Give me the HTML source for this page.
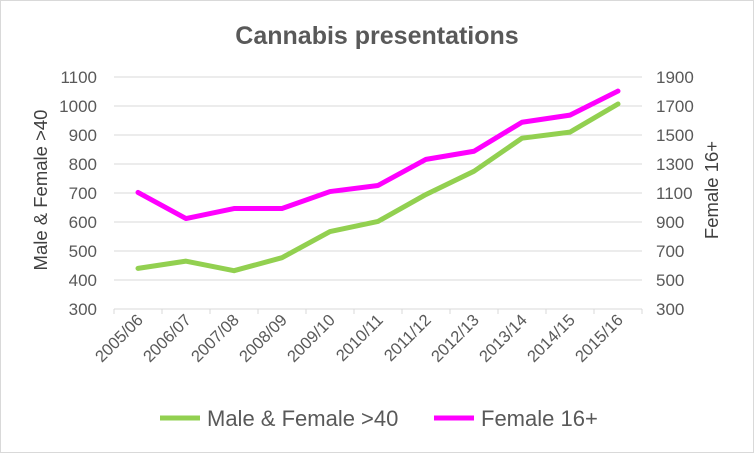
<!DOCTYPE html>
<html><head><meta charset="utf-8"><style>
body{margin:0;background:#fff}
svg{display:block;font-family:"Liberation Sans",sans-serif}
</style></head><body>
<svg id="chart" width="754" height="453" viewBox="0 0 754 453" xmlns="http://www.w3.org/2000/svg">
<rect x="0.5" y="0.5" width="753" height="452" fill="#fff" stroke="#d9d9d9"/>
<text x="377" y="44" text-anchor="middle" font-size="25" font-weight="bold" fill="#595959">Cannabis presentations</text>
<g id="grid"></g><g id="axes"></g><g id="series"></g>
<text transform="translate(47,190) rotate(-90)" text-anchor="middle" font-size="18.5" fill="#404040">Male &amp; Female &gt;40</text>
<text transform="translate(718,190) rotate(-90)" text-anchor="middle" font-size="18.5" fill="#404040">Female 16+</text>
<g>
<line x1="160" y1="418" x2="200" y2="418" stroke="#92d050" stroke-width="5"/>
<text x="207" y="426" font-size="22" fill="#595959">Male &amp; Female &gt;40</text>
<line x1="434" y1="418" x2="474" y2="418" stroke="#ff00ff" stroke-width="5"/>
<text x="481" y="426" font-size="22" fill="#595959">Female 16+</text>
</g>
</svg>
<script>
const categories=["2005/06","2006/07","2007/08","2008/09","2009/10","2010/11","2011/12","2012/13","2013/14","2014/15","2015/16"];
const maleFemale40=[440,465,432,477,567,602,695,775,889,910,1007];
const female16=[1104,924,993,993,1110,1152,1332,1388,1588,1637,1803];
const leftTicks=[300,400,500,600,700,800,900,1000,1100];
const rightTicks=[300,500,700,900,1100,1300,1500,1700,1900];
const NS="http://www.w3.org/2000/svg";
const X0=114,X1=642,Y0=309,Y1=77;
const xBand=(X1-X0)/categories.length;
const xPos=i=>X0+xBand*(i+0.5);
const yL=v=>Y0-(v-300)/800*(Y0-Y1);
const yR=v=>Y0-(v-300)/1600*(Y0-Y1);
function mk(tag,attrs,parent,txt){const e=document.createElementNS(NS,tag);for(const k in attrs)e.setAttribute(k,attrs[k]);if(txt!=null)e.textContent=txt;document.getElementById(parent).appendChild(e);return e;}
leftTicks.forEach((t,i)=>{
  if(i>0){const g=mk('line',{x1:X0,x2:X1,y1:yL(t),y2:yL(t),stroke:'#d9d9d9','stroke-width':1},'grid');
  
  }
  const l=mk('text',{x:97,y:yL(t)+6,'text-anchor':'end','font-size':17,fill:'#595959'},'axes',t);
  
  
});
rightTicks.forEach(t=>{
  const l=mk('text',{x:656,y:yR(t)+6,'font-size':17,fill:'#595959'},'axes',t);
  
  
});
const ax=mk('line',{x1:X0,x2:X1,y1:Y0,y2:Y0,stroke:'#d9d9d9','stroke-width':1},'axes');


for(let i=0;i<=categories.length;i++){
  const tk=mk('line',{x1:X0+xBand*i,x2:X0+xBand*i,y1:Y0,y2:Y0+5,stroke:'#d9d9d9'},'axes');
  
  
}
categories.forEach((c,i)=>{
  const x=xPos(i)+6,y=Y0+12;
  const l=mk('text',{transform:`translate(${x},${y}) rotate(-45)`,'text-anchor':'end','font-size':16.5,fill:'#595959'},'axes',c);
  
  
});
function line(vals,fy,color,name){
  const p=mk('polyline',{points:vals.map((v,i)=>xPos(i)+','+fy(v)).join(' '),fill:'none',stroke:color,'stroke-width':5,'stroke-linejoin':'round','stroke-linecap':'round'},'series');
  
  
}
line(maleFemale40,yL,'#92d050','series-male-female-40');
line(female16,yR,'#ff00ff','series-female-16');
</script>
</body></html>
